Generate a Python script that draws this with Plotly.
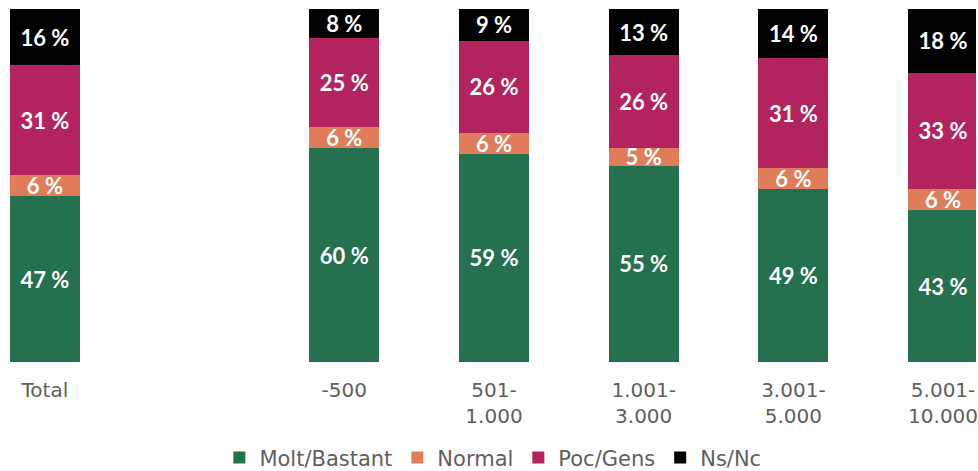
import plotly.graph_objects as go

categories = ["Total", " ", "-500", "501-<br>1.000", "1.001-<br>3.000", "3.001-<br>5.000", "5.001-<br>10.000"]
molt = [47, None, 60, 59, 55, 49, 43]
normal = [6, None, 6, 6, 5, 6, 6]
poc = [31, None, 25, 26, 26, 31, 33]
nsnc = [16, None, 8, 9, 13, 14, 18]

series = [
    ("Molt/Bastant", molt, "#24704f"),
    ("Normal", normal, "#e07c5a"),
    ("Poc/Gens", poc, "#b3235d"),
    ("Ns/Nc", nsnc, "#000000"),
]

fig = go.Figure()
for name, vals, color in series:
    fig.add_trace(go.Bar(
        x=categories, y=vals, name=name,
        marker=dict(color=color, line=dict(width=0)),
        text=[f"{v} %" if v is not None else "" for v in vals],
        textposition="inside", insidetextanchor="middle",
        textfont=dict(family="Lato", size=22, color="white", weight="bold"),
        textangle=0, constraintext="none",
        hoverinfo="skip",
    ))

fig.update_layout(
    barmode="stack", barnorm="percent", bargap=0.533,
    width=978, height=471,
    margin=dict(l=0, r=0, t=9, b=109),
    plot_bgcolor="white", paper_bgcolor="white",
    font=dict(family="DejaVu Sans", color="#5f5f5f"),
    uniformtext=dict(mode=False),
    showlegend=True,
    legend=dict(orientation="h", x=0.505, xanchor="center", yref="container", y=0.028, yanchor="middle",
                font=dict(size=21, color="#5f5f5f"), itemwidth=30, traceorder="normal"),
)
fig.update_xaxes(type="category", categoryorder="array", categoryarray=categories,
                 range=[-0.3, 6.22], showline=False, ticks="", showgrid=False,
                 tickfont=dict(size=20, color="#5f5f5f"), ticklabelstandoff=14)
fig.update_yaxes(range=[0, 100], visible=False, showgrid=False)

fig.write_html("out.html", config={"displayModeBar": False},
               post_script="document.body.style.margin='0';document.body.style.overflow='hidden';")
